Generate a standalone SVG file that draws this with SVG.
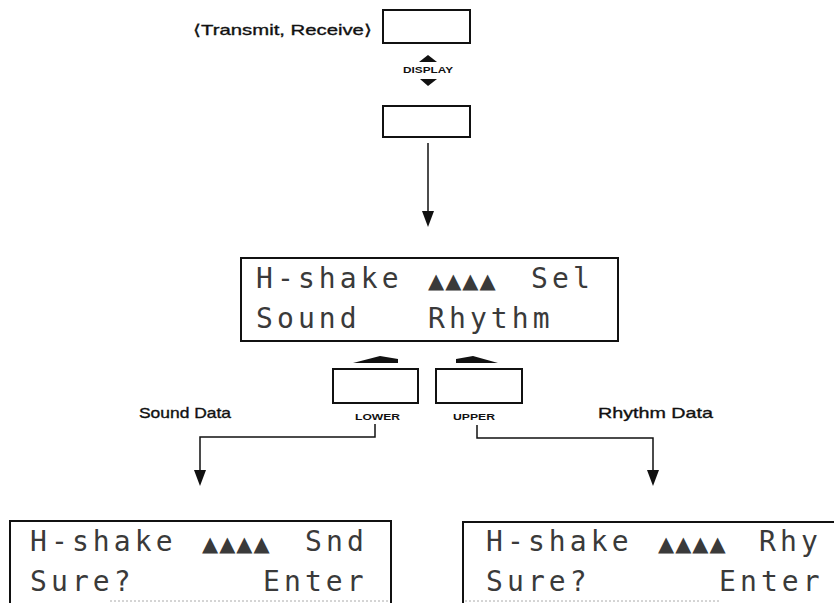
<svg xmlns="http://www.w3.org/2000/svg" width="834" height="603" viewBox="0 0 834 603">
<style>
.box{fill:none;stroke:#111;stroke-width:2}
.ln{fill:none;stroke:#111;stroke-width:1.5}
.lcd{font-family:"DejaVu Sans Mono","Liberation Mono",monospace;font-size:28px;letter-spacing:4.1px;fill:#3a3a3a}
.sym{font-family:"DejaVu Sans",sans-serif;font-size:21px;fill:#3a3a3a;letter-spacing:1px}
.lbl{font-family:"Liberation Sans",Arial,sans-serif;font-size:15px;fill:#111;stroke:#111;stroke-width:0.35}
.key{font-family:"Liberation Sans",Arial,sans-serif;font-size:9px;font-weight:bold;fill:#111}
.ah{fill:#111}
</style>
<rect width="834" height="603" fill="#fff"/>
<g id="top-box">
<text class="lbl" x="193" y="35" textLength="179" lengthAdjust="spacingAndGlyphs">⟨Transmit, Receive⟩</text>
<rect class="box" x="383" y="10" width="87" height="33"/>
</g>
<g id="display-key">
<polygon class="ah" points="428,55 419,62 437,62"/>
<text class="key" x="403" y="73" textLength="50" lengthAdjust="spacingAndGlyphs">DISPLAY</text>
<polygon class="ah" points="420,79 437,79 428,86"/>
</g>
<g id="second-box">
<rect class="box" x="383" y="106" width="87" height="31"/>
</g>
<g id="main-display">
<rect class="box" x="241" y="258" width="377" height="83"/>
<text class="lcd" x="256" y="288">H-shake</text>
<text class="sym" x="428" y="288">▲▲▲▲</text>
<text class="lcd" x="531" y="288">Sel</text>
<text class="lcd" x="256" y="328">Sound</text>
<text class="lcd" x="428" y="328">Rhythm</text>
</g>
<g id="lower-key">
<polygon class="ah" points="353,363 380,356 398,359 398,363"/>
<rect class="box" x="333" y="369" width="85" height="34"/>
<text class="key" x="355" y="420" textLength="45" lengthAdjust="spacingAndGlyphs">LOWER</text>
</g>
<g id="upper-key">
<polygon class="ah" points="456,359 473,356 498,363 456,363"/>
<rect class="box" x="436" y="369" width="86" height="34"/>
<text class="key" x="453" y="420" textLength="42" lengthAdjust="spacingAndGlyphs">UPPER</text>
</g>
<g id="labels">
<text class="lbl" x="139" y="418" textLength="92" lengthAdjust="spacingAndGlyphs">Sound Data</text>
<text class="lbl" x="598" y="418" textLength="115" lengthAdjust="spacingAndGlyphs">Rhythm Data</text>
</g>
<g id="connectors">
<line class="ln" x1="428" y1="143" x2="428" y2="212"/>
<polygon class="ah" points="422,211 434,211 428,227"/>
<polyline class="ln" points="375,424 375,437 200,437 200,472"/>
<polygon class="ah" points="194,470 206,470 200,486"/>
<polyline class="ln" points="477,425 477,438 653,438 653,472"/>
<polygon class="ah" points="647,470 659,470 653,486"/>
</g>
<g id="sound-confirm">
<path class="box" d="M10,603 V521 H391 V603"/>
<line x1="110" y1="601" x2="388" y2="601" stroke="#aaa" stroke-width="1" stroke-dasharray="2,2"/>
<text class="lcd" x="30" y="551">H-shake</text>
<text class="sym" x="202" y="551">▲▲▲▲</text>
<text class="lcd" x="305" y="551">Snd</text>
<text class="lcd" x="30" y="591">Sure?</text>
<text class="lcd" x="263" y="591">Enter</text>
</g>
<g id="rhythm-confirm">
<path class="box" d="M463,603 V522 H834"/>
<line x1="465" y1="601" x2="720" y2="601" stroke="#aaa" stroke-width="1" stroke-dasharray="2,2"/>
<text class="lcd" x="486" y="551">H-shake</text>
<text class="sym" x="658" y="551">▲▲▲▲</text>
<text class="lcd" x="759" y="551">Rhy</text>
<text class="lcd" x="486" y="591">Sure?</text>
<text class="lcd" x="719" y="591">Enter</text>
</g>
</svg>
